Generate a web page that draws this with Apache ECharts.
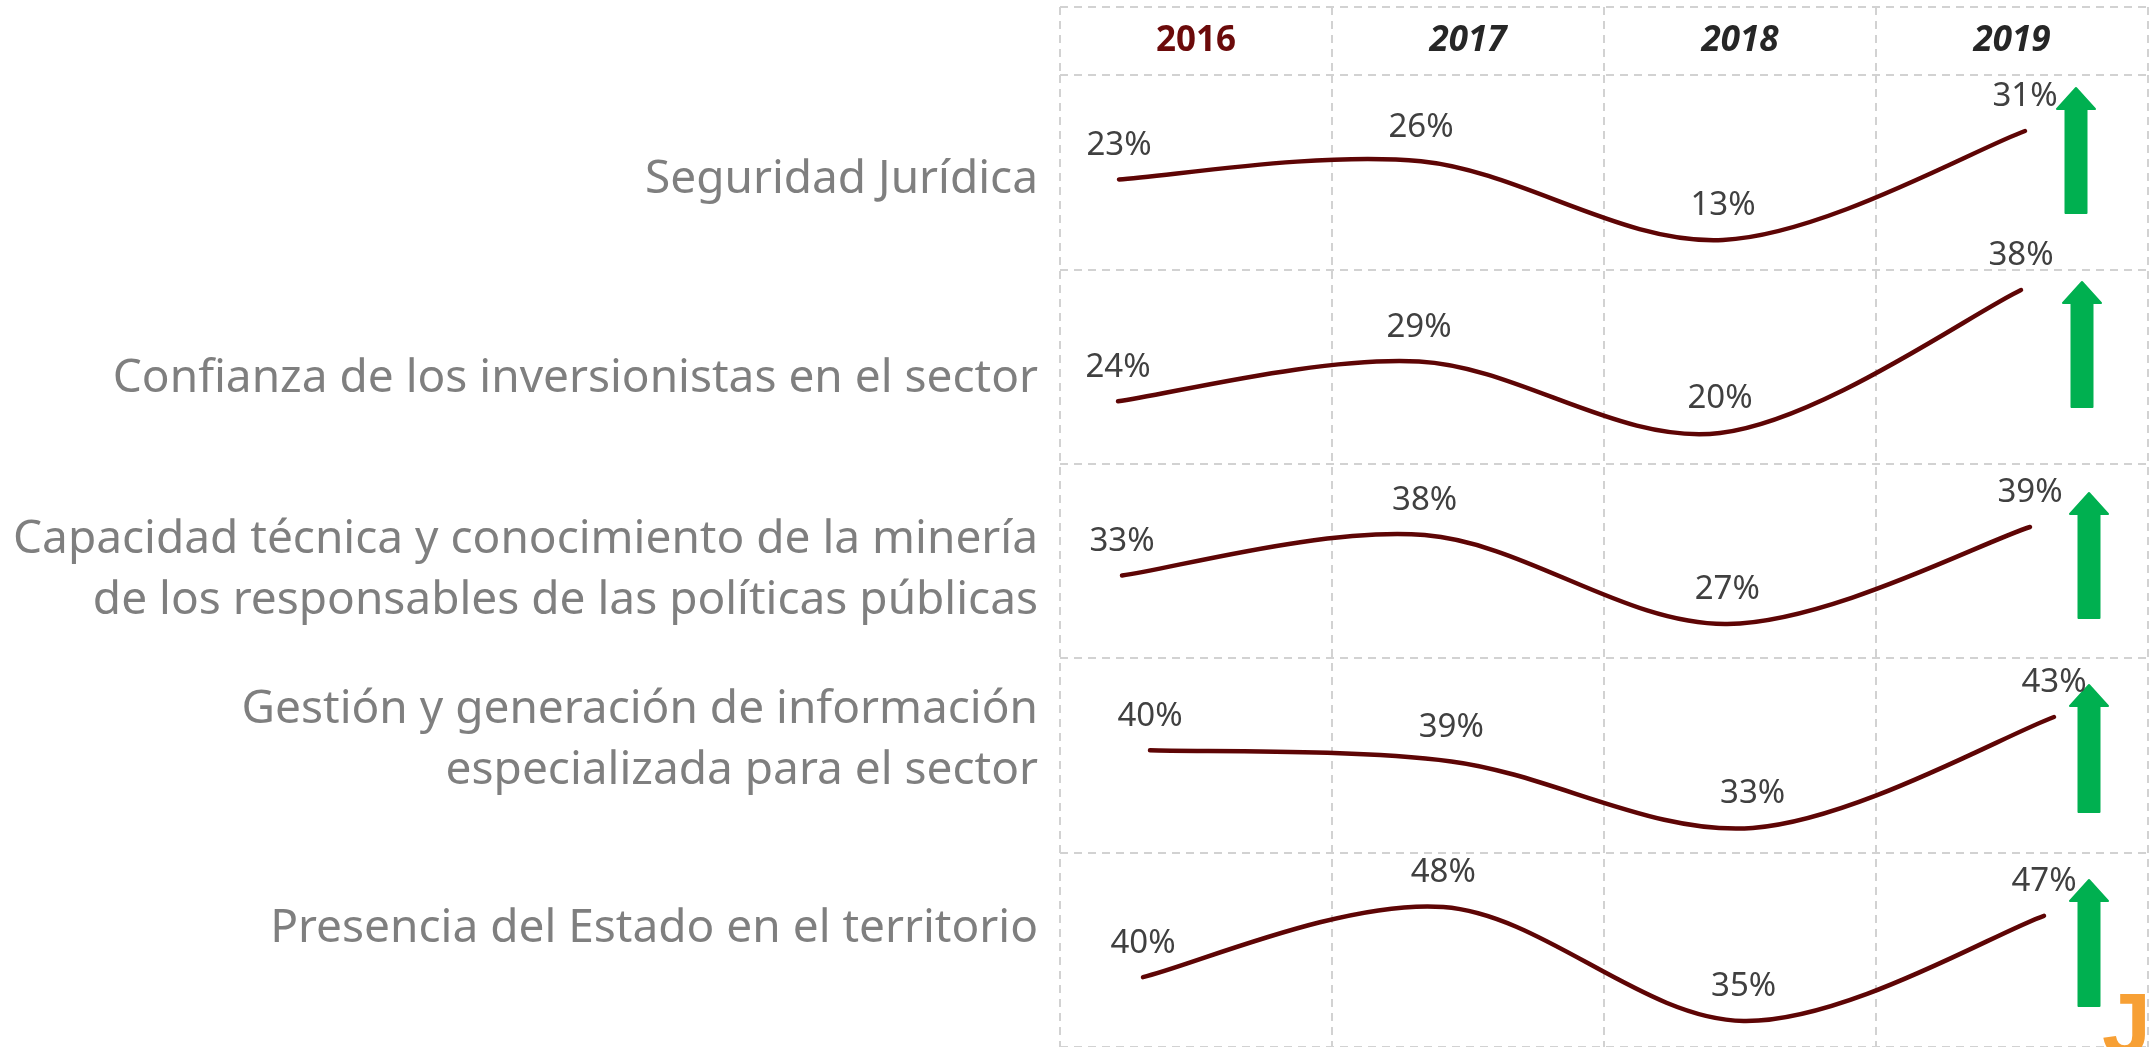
<!DOCTYPE html>
<html>
<head>
<meta charset="utf-8">
<script src="https://cdn.jsdelivr.net/npm/echarts@6/dist/echarts.min.js"></script>
<style>
  html, body { margin: 0; padding: 0; background: #fff; }
  #chart { width: 2151px; height: 1047px; }
</style>
</head>
<body>
<div id="chart"></div>
<script>
const years = ['2016', '2017', '2018', '2019'];

const categories = [
    'Seguridad Jurídica',
    'Confianza de los inversionistas en el sector',
    'Capacidad técnica y conocimiento de la minería\nde los responsables de las políticas públicas',
    'Gestión y generación de información\nespecializada para el sector',
    'Presencia del Estado en el territorio'
];

const seguridadJuridica = [23, 26, 13, 31];
const confianzaInversionistas = [24, 29, 20, 38];
const capacidadTecnica = [33, 38, 27, 39];
const gestionInformacion = [40, 39, 33, 43];
const presenciaEstado = [40, 48, 35, 47];

const seriesValues = [seguridadJuridica, confianzaInversionistas, capacidadTecnica, gestionInformacion, presenciaEstado];

// layout of each sparkline row (pixels)
const rowLayout = [
    { left: 1119, right: 126, top: 131, height: 109, labelY: 180, arrowX: 2076, arrowTop: 88, arrowBottom: 213 },
    { left: 1118, right: 130, top: 290, height: 143, labelY: 379, arrowX: 2082, arrowTop: 282, arrowBottom: 407 },
    { left: 1122, right: 121, top: 527, height: 97, labelY: 570, arrowX: 2089, arrowTop: 493, arrowBottom: 618 },
    { left: 1150, right: 97, top: 717, height: 111, labelY: 740, arrowX: 2089, arrowTop: 685, arrowBottom: 812 },
    { left: 1143, right: 107, top: 907, height: 114, labelY: 929, arrowX: 2089, arrowTop: 880, arrowBottom: 1006 }
];

const chart = echarts.init(document.getElementById('chart'));

const dashed = { color: '#d2d2d2', width: 2, type: [8, 6] };
const baseFont = 'Noto Sans';
const lineColor = '#5e0505';

const grids = [
    { left: 1060, right: 3, top: 7, height: 68 },   // header row
    { left: 1060, right: 3, top: 75, bottom: 0 }    // body rows
];
const xAxes = [
    {
        gridIndex: 0, type: 'category', data: years, boundaryGap: true,
        axisLine: { show: false }, axisTick: { show: false }, axisLabel: { show: false },
        splitLine: { show: true, lineStyle: dashed }
    },
    {
        gridIndex: 1, type: 'category', data: years, boundaryGap: true, position: 'top',
        axisLine: { show: false }, axisTick: { show: false },
        splitLine: { show: true, lineStyle: dashed },
        axisLabel: {
            margin: 16,
            formatter: (v, i) => i === 0 ? '{first|' + v + '}' : '{other|' + v + '}',
            rich: {
                first: { fontFamily: baseFont, fontSize: 35, fontWeight: 'bold', color: '#6b0a0a' },
                other: { fontFamily: baseFont, fontSize: 35, fontWeight: 'bold', fontStyle: 'italic', color: '#262626' }
            }
        }
    }
];
const yAxes = [
    {
        gridIndex: 0, type: 'value', min: 0, max: 1, interval: 1,
        axisLine: { show: false }, axisTick: { show: false }, axisLabel: { show: false },
        splitLine: { show: true, lineStyle: dashed }
    },
    {
        gridIndex: 1, type: 'value', min: 0, max: 5, interval: 1,
        axisLine: { show: false }, axisTick: { show: false }, axisLabel: { show: false },
        splitLine: { show: true, lineStyle: dashed }
    }
];

// Excel-like smoothed line: Catmull-Rom through the projected data points
function smoothPath(pts) {
    let d = 'M' + pts[0][0] + ' ' + pts[0][1];
    for (let k = 0; k < pts.length - 1; k++) {
        const p0 = pts[Math.max(k - 1, 0)];
        const p1 = pts[k];
        const p2 = pts[k + 1];
        const p3 = pts[Math.min(k + 2, pts.length - 1)];
        const c1x = p1[0] + (p2[0] - p0[0]) / 6, c1y = p1[1] + (p2[1] - p0[1]) / 6;
        const c2x = p2[0] - (p3[0] - p1[0]) / 6, c2y = p2[1] - (p3[1] - p1[1]) / 6;
        d += ' C' + c1x + ' ' + c1y + ' ' + c2x + ' ' + c2y + ' ' + p2[0] + ' ' + p2[1];
    }
    return d;
}

const series = [];
const graphics = [];

seriesValues.forEach((values, i) => {
    const r = rowLayout[i];
    const gi = grids.length;
    grids.push({ left: r.left, right: r.right, top: r.top, height: r.height });
    xAxes.push({ gridIndex: gi, type: 'category', data: years, boundaryGap: false, show: false });
    yAxes.push({ gridIndex: gi, type: 'value', min: 'dataMin', max: 'dataMax', show: false, splitLine: { show: false } });

    series.push({
        name: categories[i],
        type: 'custom',
        xAxisIndex: gi,
        yAxisIndex: gi,
        data: values.map((v, k) => [k, v]),
        encode: { x: 0, y: 1 },
        renderItem: (params, api) => {
            if (params.dataIndex !== 0) return null;
            const pts = values.map((v, k) => api.coord([k, v]));
            return {
                type: 'path',
                shape: { pathData: smoothPath(pts) },
                style: { stroke: lineColor, lineWidth: 4.5, fill: 'none', lineCap: 'round' }
            };
        },
        z: 3
    });

    // value labels
    series.push({
        name: categories[i] + ' %',
        type: 'line',
        xAxisIndex: gi,
        yAxisIndex: gi,
        data: values,
        symbol: 'circle',
        symbolSize: 1,
        lineStyle: { color: 'rgba(0,0,0,0)', width: 0 },
        itemStyle: { color: 'rgba(0,0,0,0)' },
        label: {
            show: true,
            position: 'top',
            distance: 17,
            formatter: '{c}%',
            fontFamily: baseFont,
            fontSize: 33,
            color: '#404040'
        },
        z: 4
    });

    // row caption on the left
    graphics.push({
        type: 'text',
        x: 1038,
        y: r.labelY,
        style: {
            text: categories[i],
            align: 'right',
            verticalAlign: 'middle',
            fontFamily: baseFont,
            fontSize: 46,
            lineHeight: 61,
            fill: '#7f7f7f'
        }
    });

    // green "up" arrow
    const hw = 10.5, hh = 19, ah = 21;
    graphics.push({
        type: 'polygon',
        shape: {
            points: [
                [r.arrowX, r.arrowTop],
                [r.arrowX + hh, r.arrowTop + ah],
                [r.arrowX + hw, r.arrowTop + ah],
                [r.arrowX + hw, r.arrowBottom],
                [r.arrowX - hw, r.arrowBottom],
                [r.arrowX - hw, r.arrowTop + ah],
                [r.arrowX - hh, r.arrowTop + ah]
            ]
        },
        style: { fill: '#00b050', lineJoin: 'round', stroke: '#00b050', lineWidth: 2 }
    });
});

// corner of the orange logo
graphics.push({
    type: 'text',
    x: 2102,
    y: 1030,
    z: 10,
    style: {
        text: 'J', fontFamily: 'Liberation Sans', fontSize: 88, fontWeight: 'bold',
        fill: '#f7a035', verticalAlign: 'middle', align: 'left'
    }
});

chart.setOption({
    animation: false,
    backgroundColor: '#ffffff',
    grid: grids,
    xAxis: xAxes,
    yAxis: yAxes,
    series: series,
    graphic: graphics
});

window.addEventListener('resize', () => chart.resize());
</script>
</body>
</html>
